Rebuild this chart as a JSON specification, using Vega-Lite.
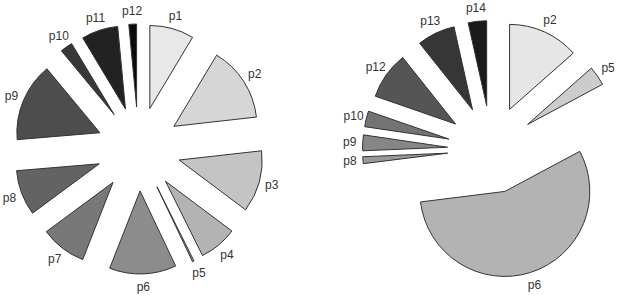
{
  "$schema": "https://vega.github.io/schema/vega-lite/v6.json",
  "padding": 0,
  "spacing": 0,
  "config": {"view": {"stroke": null}},
  "datasets": {
    "left": [
      {"n": 1, "label": "p1", "value": 8.6},
      {"n": 2, "label": "p2", "value": 14.6},
      {"n": 3, "label": "p3", "value": 12.0},
      {"n": 4, "label": "p4", "value": 7.4},
      {"n": 5, "label": "p5", "value": 0.3},
      {"n": 6, "label": "p6", "value": 13.0},
      {"n": 7, "label": "p7", "value": 8.9},
      {"n": 8, "label": "p8", "value": 8.8},
      {"n": 9, "label": "p9", "value": 15.3},
      {"n": 10, "label": "p10", "value": 2.4},
      {"n": 11, "label": "p11", "value": 7.1},
      {"n": 12, "label": "p12", "value": 1.5}
    ],
    "right": [
      {"n": 2, "label": "p2", "value": 13.5},
      {"n": 5, "label": "p5", "value": 3.7},
      {"n": 6, "label": "p6", "value": 55.9},
      {"n": 8, "label": "p8", "value": 1.3},
      {"n": 9, "label": "p9", "value": 3.0},
      {"n": 10, "label": "p10", "value": 3.0},
      {"n": 12, "label": "p12", "value": 9.0},
      {"n": 13, "label": "p13", "value": 7.2},
      {"n": 14, "label": "p14", "value": 3.5}
    ]
  },
  "resolve": {"scale": {"color": "independent", "x": "independent", "y": "independent", "theta": "independent"}},
  "hconcat": [
    {
      "width": 300,
      "height": 302,
      "data": {"name": "left"},
      "transform": [
        {"joinaggregate": [{"op": "sum", "field": "value", "as": "total"}]},
        {"window": [{"op": "sum", "field": "value", "as": "cum"}], "sort": [{"field": "n", "order": "ascending"}], "frame": [null, 0]},
        {"calculate": "(datum.cum - datum.value) / datum.total", "as": "start"},
        {"calculate": "datum.cum / datum.total", "as": "end"},
        {"calculate": "(datum.start + datum.end) / 2", "as": "mid"},
        {"calculate": "42 * sin(2 * PI * datum.mid)", "as": "dx"},
        {"calculate": "42 * cos(2 * PI * datum.mid)", "as": "dy"}
      ],
      "encoding": {
        "x": {"field": "dx", "type": "quantitative", "scale": {"domain": [-138.6, 161.4], "nice": false, "zero": false}, "axis": null},
        "y": {"field": "dy", "type": "quantitative", "scale": {"domain": [-153, 149], "nice": false, "zero": false}, "axis": null}
      },
      "layer": [
        {
          "mark": {"type": "arc", "radius": 83, "stroke": "#333333", "strokeWidth": 1},
          "encoding": {
            "theta": {"field": "start", "type": "quantitative", "stack": null, "scale": {"domain": [0, 1]}},
            "theta2": {"field": "end"},
            "color": {"field": "label", "type": "nominal", "legend": null,
              "scale": {"domain": ["p1","p2","p3","p4","p5","p6","p7","p8","p9","p10","p11","p12"],
                        "range": ["#e8e8e8","#d6d6d6","#c4c4c4","#b3b3b3","#a0a0a0","#8c8c8c","#787878","#636363","#4d4d4d","#383838","#222222","#0a0a0a"]}}
          }
        },
        {
          "mark": {"type": "text", "radius": 96, "fontSize": 12, "font": "Liberation Sans", "fill": "#333333", "align": "center", "baseline": "middle"},
          "encoding": {
            "theta": {"field": "mid", "type": "quantitative", "stack": null, "scale": {"domain": [0, 1]}},
            "text": {"field": "label"}
          }
        }
      ]
    },
    {
      "width": 319,
      "height": 302,
      "data": {"name": "right"},
      "transform": [
        {"joinaggregate": [{"op": "sum", "field": "value", "as": "total"}]},
        {"window": [{"op": "sum", "field": "value", "as": "cum"}], "sort": [{"field": "n", "order": "ascending"}], "frame": [null, 0]},
        {"calculate": "(datum.cum - datum.value) / datum.total", "as": "start"},
        {"calculate": "datum.cum / datum.total", "as": "end"},
        {"calculate": "(datum.start + datum.end) / 2", "as": "mid"},
        {"calculate": "44 * sin(2 * PI * datum.mid)", "as": "dx"},
        {"calculate": "44 * cos(2 * PI * datum.mid)", "as": "dy"}
      ],
      "encoding": {
        "x": {"field": "dx", "type": "quantitative", "scale": {"domain": [-191.5, 127.5], "nice": false, "zero": false}, "axis": null},
        "y": {"field": "dy", "type": "quantitative", "scale": {"domain": [-152.5, 149.5], "nice": false, "zero": false}, "axis": null}
      },
      "layer": [
        {
          "mark": {"type": "arc", "radius": 85, "stroke": "#333333", "strokeWidth": 1},
          "encoding": {
            "theta": {"field": "start", "type": "quantitative", "stack": null, "scale": {"domain": [0, 1]}},
            "theta2": {"field": "end"},
            "color": {"field": "label", "type": "nominal", "legend": null,
              "scale": {"domain": ["p2","p5","p6","p8","p9","p10","p12","p13","p14"],
                        "range": ["#e6e6e6","#cccccc","#b3b3b3","#999999","#868686","#737373","#555555","#363636","#1a1a1a"]}}
          }
        },
        {
          "mark": {"type": "text", "radius": 98, "fontSize": 12, "font": "Liberation Sans", "fill": "#333333", "align": "center", "baseline": "middle"},
          "encoding": {
            "theta": {"field": "mid", "type": "quantitative", "stack": null, "scale": {"domain": [0, 1]}},
            "text": {"field": "label"}
          }
        }
      ]
    }
  ]
}
